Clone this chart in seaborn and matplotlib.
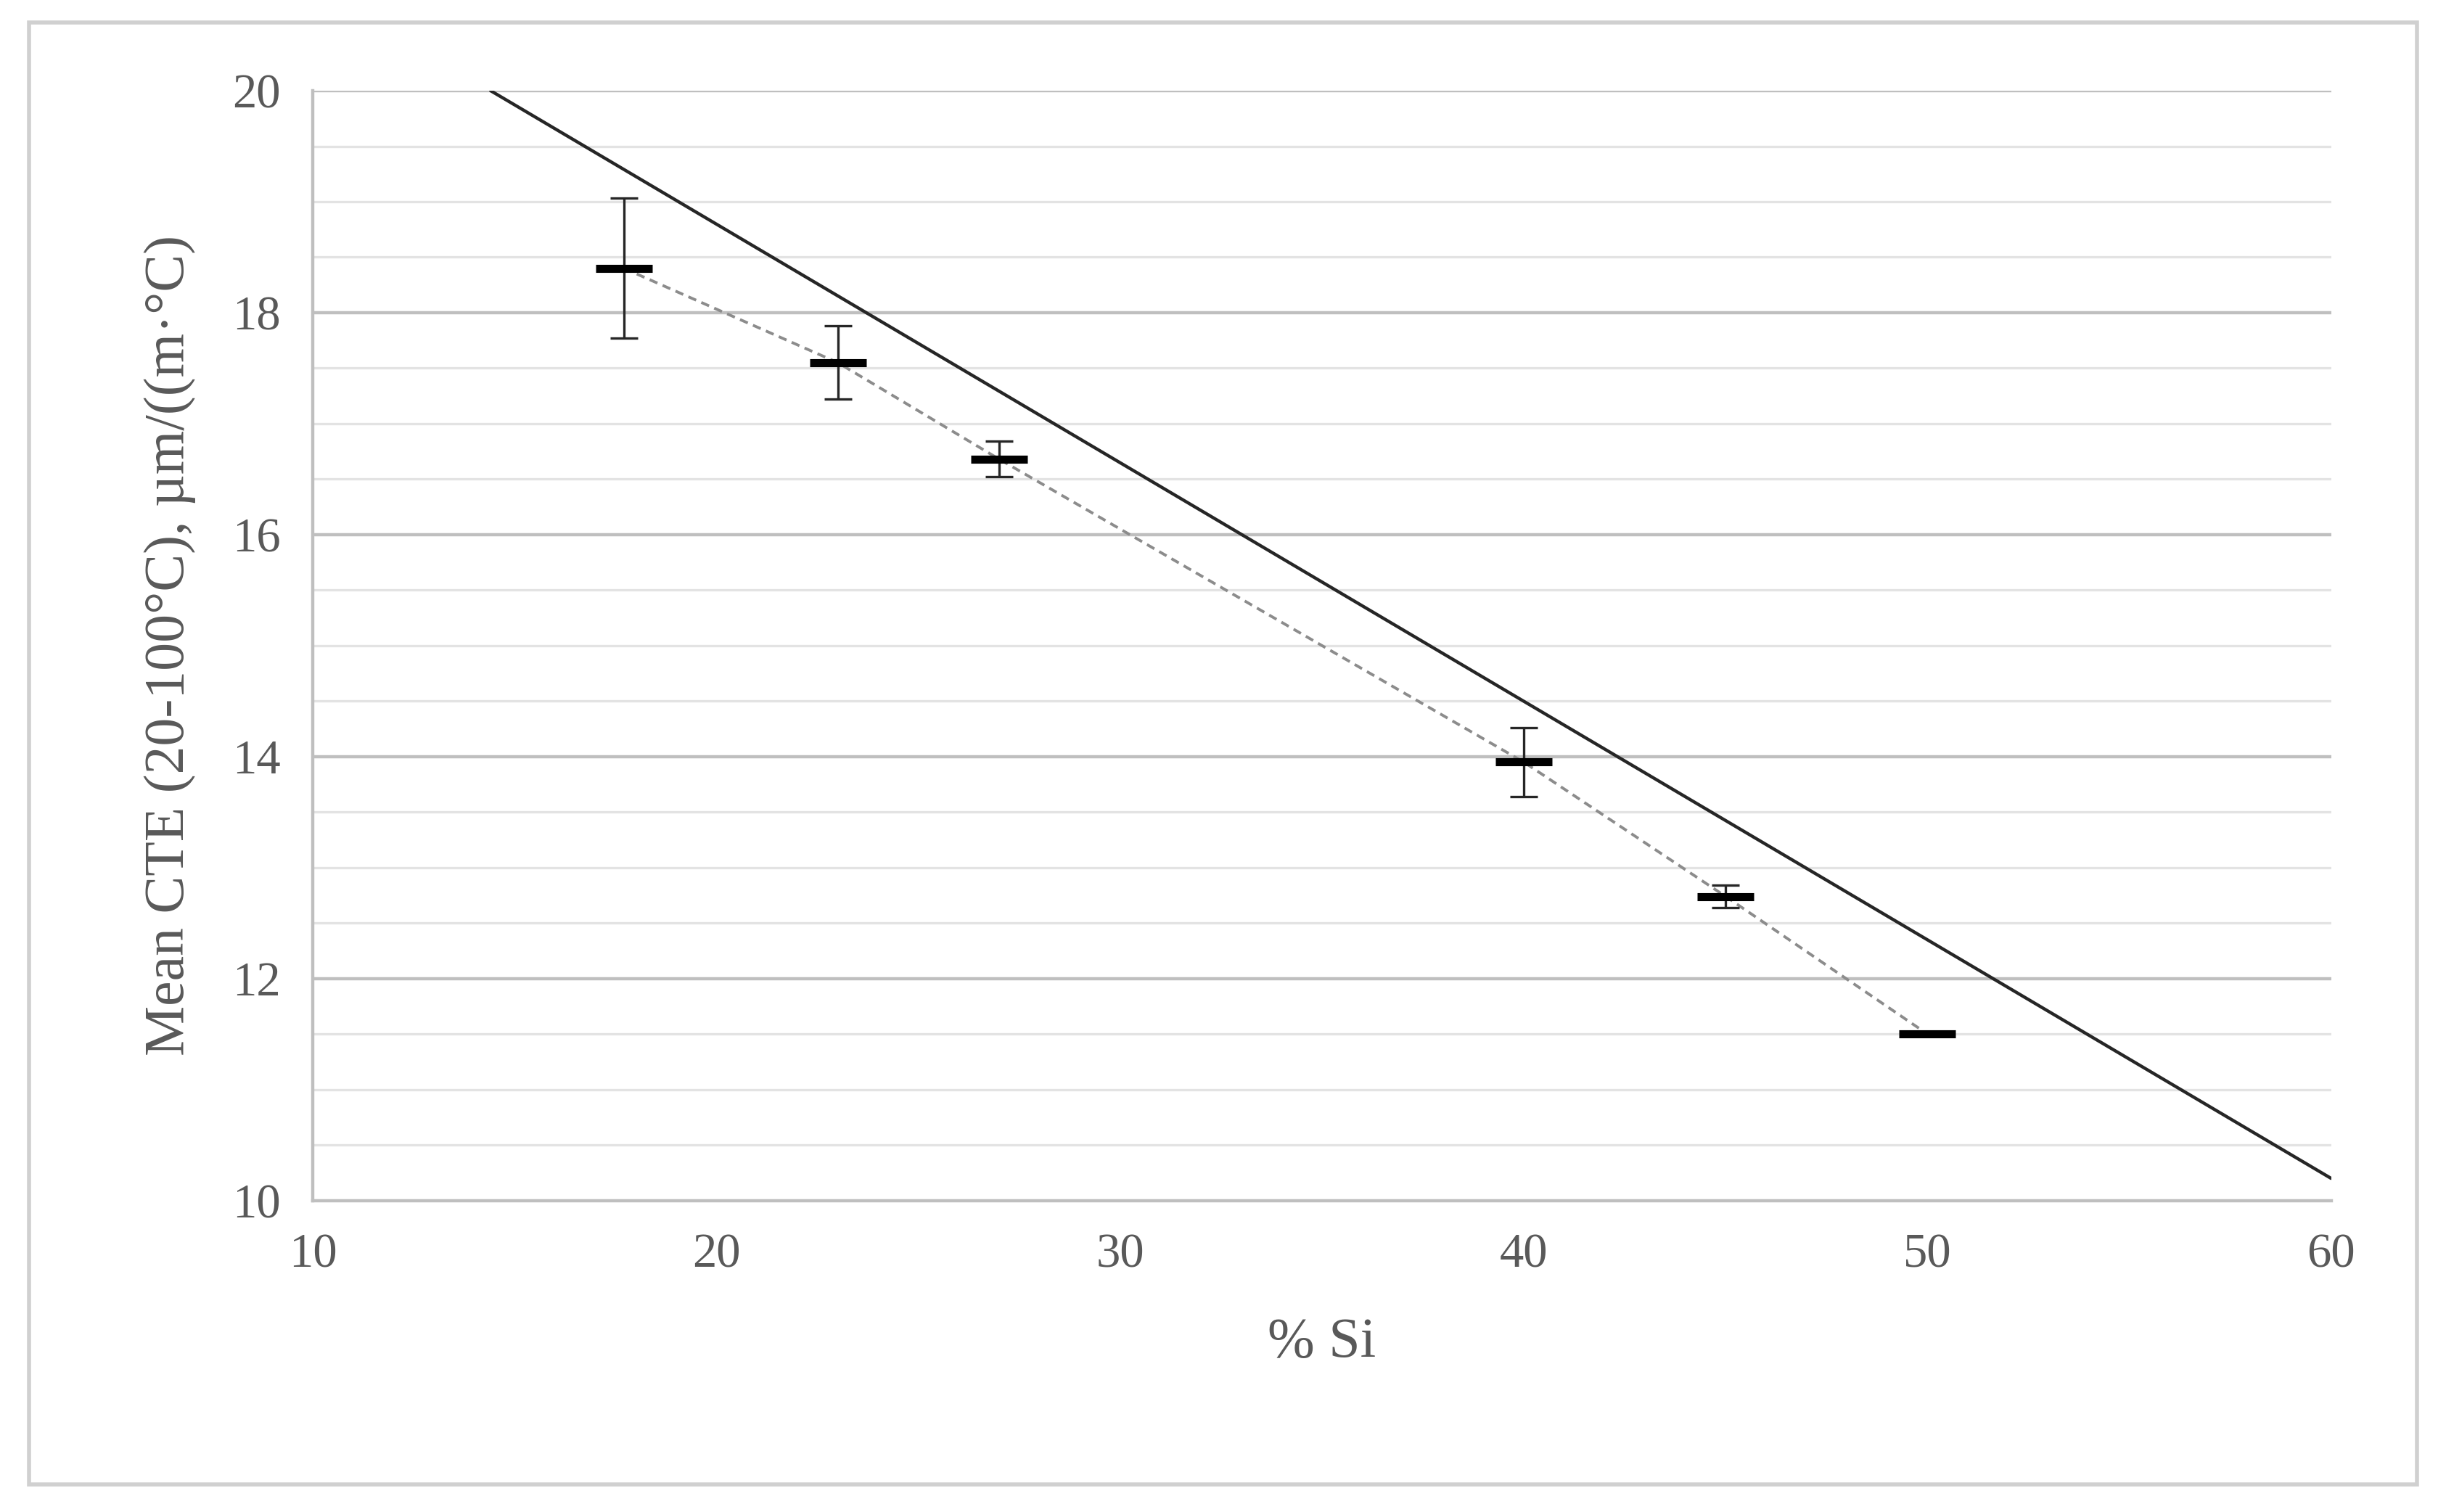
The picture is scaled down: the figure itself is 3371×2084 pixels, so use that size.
import numpy as np
import pandas as pd
import seaborn as sns
import matplotlib.pyplot as plt

# Data
si_pct = [17.7, 23.0, 27.0, 40.0, 45.0, 50.0]
cte_mean = [18.40, 17.55, 16.68, 13.95, 12.74, 11.50]
cte_err = [0.63, 0.33, 0.16, 0.31, 0.10, 0.0]

# theoretical (solid) line
line_x = [14.4, 60.0]
line_y = [20.0, 10.2]

df = pd.DataFrame({'si': si_pct, 'cte': cte_mean, 'err': cte_err})

sns.set_theme(style='white')
plt.rcParams['font.family'] = ['Liberation Serif', 'DejaVu Serif']
grey = '#595959'

fig, ax = plt.subplots(figsize=(16.855, 10.42), dpi=200)
fig.subplots_adjust(left=0.128, right=0.953, top=0.94, bottom=0.206)

# gridlines
for y in np.arange(10.5, 20.01, 0.5):
    major = abs(y % 2) < 1e-9
    ax.axhline(y, color='#bfbfbf' if major else '#e3e3e3', lw=1.6 if major else 1.2, zorder=0)

sns.lineplot(x=line_x, y=line_y, ax=ax, color='#262626', lw=1.6, zorder=2)
sns.lineplot(data=df, x='si', y='cte', ax=ax, color='#8c8c8c', lw=1.4,
             linestyle=(0, (3, 2)), zorder=2)
ax.errorbar(df['si'], df['cte'], yerr=df['err'], fmt='none', ecolor='#262626',
            elinewidth=1.2, capsize=7, capthick=1.2, zorder=3)
ax.plot(df['si'], df['cte'], linestyle='none', marker='_', markersize=28,
        markeredgewidth=4, color='black', zorder=4)

ax.set_xlim(10, 60)
ax.set_ylim(10, 20)
ax.set_xticks(range(10, 61, 10))
ax.set_yticks(range(10, 21, 2))
ax.tick_params(colors=grey, labelsize=24, length=0, pad=16)
for s in ['top', 'right']:
    ax.spines[s].set_visible(False)
ax.spines['left'].set_color('#bfbfbf')
ax.spines['bottom'].set_color('#bfbfbf')
ax.spines['left'].set_linewidth(1.6)
ax.spines['bottom'].set_linewidth(1.6)
ax.set_xlabel('% Si', fontsize=28, color=grey, labelpad=20)
ax.set_ylabel('Mean CTE (20-100°C), µm/((m·°C)', fontsize=28, color=grey, labelpad=18)

# outer frame
fig.patches.append(plt.Rectangle((0.012, 0.018), 0.976, 0.967, transform=fig.transFigure,
                                 fill=False, edgecolor='#d0d0d0', lw=2))

fig.savefig('out.png', dpi=200)
